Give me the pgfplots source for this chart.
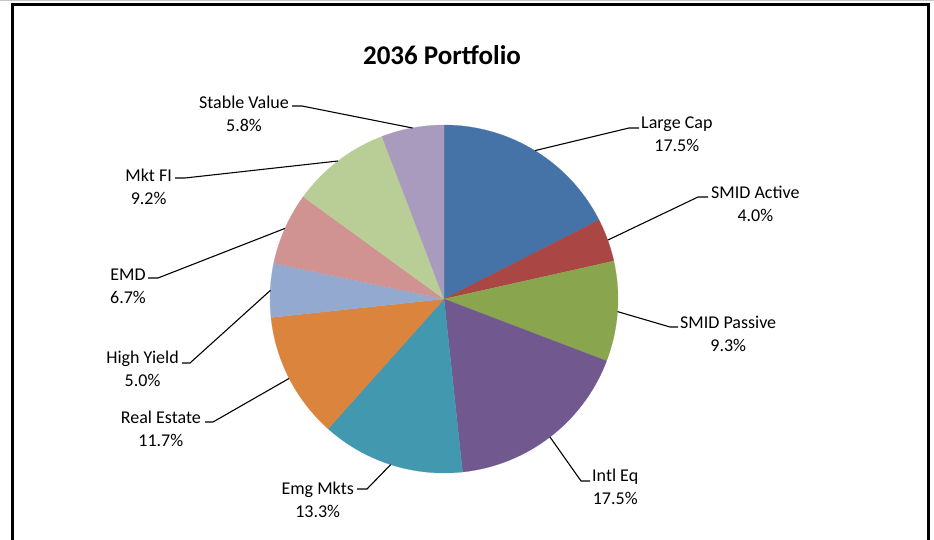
\documentclass[border=0pt]{standalone}
\usepackage{pgfplots}
\pgfplotsset{compat=1.18}
\usepackage{pgfplotstable}
\usepackage{fontspec}
\setmainfont{Carlito}
\definecolor{c0}{HTML}{4572A7}
\definecolor{c1}{HTML}{AA4643}
\definecolor{c2}{HTML}{89A54E}
\definecolor{c3}{HTML}{71588F}
\definecolor{c4}{HTML}{4198AF}
\definecolor{c5}{HTML}{DB843D}
\definecolor{c6}{HTML}{93A9CF}
\definecolor{c7}{HTML}{D19392}
\definecolor{c8}{HTML}{B9CD96}
\definecolor{c9}{HTML}{A99BBD}
\pgfplotstableread{
pct
17.5
4.0
9.3
17.5
13.3
11.7
5.0
6.7
9.2
5.8
}\piedata
\begin{document}
\begin{tikzpicture}
\begin{axis}[width=934pt,height=540pt,scale only axis,
  xmin=0,xmax=934,ymin=0,ymax=540,y dir=reverse,hide axis,clip=false]
\path (axis cs:0,0) rectangle (axis cs:934,540);
\def\cum{0}
\pgfplotsforeachungrouped \i in {0,...,9}{%
  \pgfplotstablegetelem{\i}{pct}\of\piedata
  \pgfmathsetmacro{\aS}{90-3.6*\cum}%
  \pgfmathsetmacro{\aE}{90-3.6*(\cum+\pgfplotsretval)}%
  \pgfmathsetmacro{\cum}{\cum+\pgfplotsretval}%
  \edef\temp{\noexpand\addplot[fill=c\i, draw=c\i, line width=0.2pt, domain=\aE:\aS, samples=80]
    ({444+174*cos(x)},{299-174*sin(x)}) -- (axis cs:444,299) -- cycle;}%
  \temp
}
% border
\draw[gray!45, line width=1pt] (axis cs:0,0.5) -- (axis cs:934,0.5);
\draw[black, line width=3pt] (axis cs:12.5,540) -- (axis cs:12.5,5) -- (axis cs:928,5) -- (axis cs:928,540);
% title
\node[font=\fontsize{27}{32}\selectfont\bfseries] at (axis cs:442,55) {2036 Portfolio};
% leaders
\begin{scope}[line width=1.1pt, black]
\draw (axis cs:535,150.6) -- (axis cs:629,128) -- (axis cs:639,128);
\draw (axis cs:608,240) -- (axis cs:698,197) -- (axis cs:708,197);
\draw (axis cs:617.5,311.6) -- (axis cs:670,327) -- (axis cs:678,327);
\draw (axis cs:550,437) -- (axis cs:581,481) -- (axis cs:590,481);
\draw (axis cs:390.7,464.6) -- (axis cs:367,489) -- (axis cs:357,489);
\draw (axis cs:289,378.5) -- (axis cs:213,422) -- (axis cs:205,422);
\draw (axis cs:270.5,290.3) -- (axis cs:190,363) -- (axis cs:182,363);
\draw (axis cs:285,228.4) -- (axis cs:158,278) -- (axis cs:148,278);
\draw (axis cs:338,161) -- (axis cs:185,178) -- (axis cs:175,178);
\draw (axis cs:412.5,128) -- (axis cs:302,106) -- (axis cs:292,106);
\end{scope}
% labels
\begin{scope}[every node/.style={font=\fontsize{18}{23}\selectfont, align=center, inner sep=0pt}]
\node[anchor=west] at (axis cs:641,134.5) {Large Cap\\17.5\%};
\node[anchor=west] at (axis cs:711,204) {SMID Active\\4.0\%};
\node[anchor=west] at (axis cs:680,333.5) {SMID Passive\\9.3\%};
\node[anchor=west] at (axis cs:592,486.5) {Intl Eq\\17.5\%};
\node[anchor=east] at (axis cs:354,500) {Emg Mkts\\13.3\%};
\node[anchor=east] at (axis cs:201,428.5) {Real Estate\\11.7\%};
\node[anchor=east] at (axis cs:179,369) {High Yield\\5.0\%};
\node[anchor=east] at (axis cs:146,286) {EMD\\6.7\%};
\node[anchor=east] at (axis cs:172,186.5) {Mkt FI\\9.2\%};
\node[anchor=east] at (axis cs:289,113.5) {Stable Value\\5.8\%};
\end{scope}
\end{axis}
\pgfresetboundingbox
\path (current axis.south west) rectangle (current axis.north east);
\end{tikzpicture}
\end{document}
